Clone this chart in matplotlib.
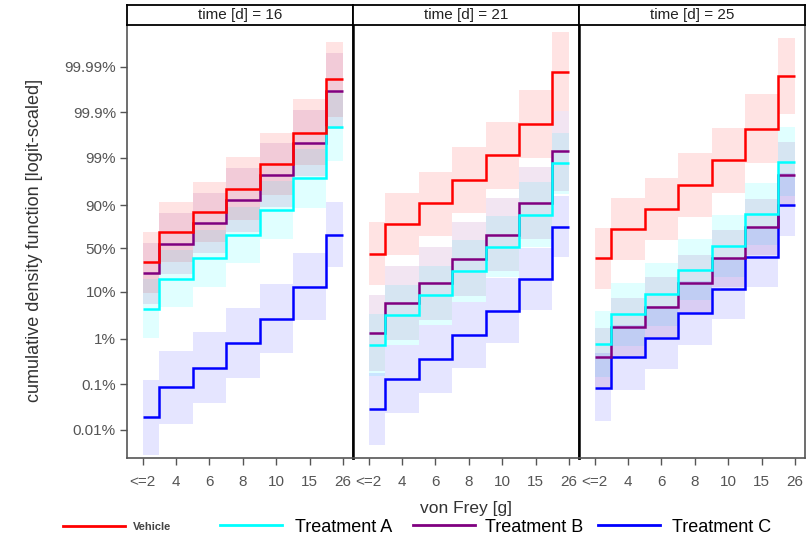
import numpy as np
import matplotlib
matplotlib.use('Agg')
import matplotlib.pyplot as plt
from matplotlib.lines import Line2D
from matplotlib.ticker import FixedLocator, FixedFormatter, NullLocator

plt.rcParams['font.family'] = ['Liberation Sans', 'DejaVu Sans']

# ---- data (percent) ----
days = [16, 21, 25]
doses = ["<=2", "4", "6", "8", "10", "15", "26"]

vehicle_cdf = [[33.1, 69.4, 86.2, 95.4, 98.65, 99.72, 99.981],
               [43.1, 77.6, 90.7, 97.0, 99.12, 99.82, 99.987],
               [37.4, 72.9, 88.1, 96.2, 98.87, 99.77, 99.984]]
vehicle_lo = [[9.6, 33.5, 57.8, 80.9, 93.7, 98.56, 99.872],
              [13.2, 41.4, 65.7, 86.0, 95.4, 98.98, 99.908],
              [11.2, 36.2, 61.0, 83.4, 94.4, 98.71, 99.888]]
vehicle_hi = [[69.8, 91.1, 96.6, 99.03, 99.72, 99.948, 99.9971],
              [79.0, 94.4, 98.0, 99.41, 99.837, 99.968, 99.9983],
              [73.9, 92.7, 97.24, 99.21, 99.78, 99.960, 99.9977]]

treat_a_cdf = [[4.5, 17.6, 37.4, 66.5, 87.4, 97.19, 99.79],
               [0.742, 3.26, 8.5, 24.2, 52.3, 84.6, 98.69],
               [0.780, 3.42, 8.77, 25.1, 53.2, 85.2, 98.77]]
treat_a_lo = [[1.04, 4.74, 12.2, 32.0, 61.4, 88.3, 98.85],
              [0.155, 0.742, 2.02, 6.31, 18.8, 51.5, 93.98],
              [0.147, 0.705, 1.92, 6.62, 19.3, 54.8, 93.3]]
treat_a_hi = [[17.6, 47.7, 71.9, 89.3, 96.8, 99.37, 99.963],
              [3.48, 13.2, 29.5, 60.2, 83.9, 96.58, 99.72],
              [4.03, 15.0, 32.0, 61.4, 84.3, 96.46, 99.79]]

treat_b_cdf = [[22.1, 55.7, 78.2, 92.1, 97.66, 99.52, 99.966],
               [1.33, 5.74, 14.6, 36.6, 66.5, 90.9, 99.29],
               [0.398, 1.77, 4.81, 14.6, 37.4, 74.9, 97.69]]
treat_b_lo = [[5.6, 21.0, 43.9, 70.1, 89.3, 97.46, 99.77],
              [0.197, 0.923, 2.59, 8.11, 23.6, 61.4, 94.8],
              [0.0902, 0.398, 1.09, 3.84, 12.4, 41.4, 89.3]]
treat_b_hi = [[57.3, 85.6, 94.3, 98.32, 99.52, 99.911, 99.995],
              [8.5, 28.5, 52.3, 79.0, 92.7, 98.45, 99.908],
              [1.74, 7.50, 18.8, 42.2, 71.5, 92.6, 99.54]]

treat_c_cdf = [[0.019, 0.087, 0.236, 0.806, 2.72, 12.6, 66.5],
               [0.0291, 0.131, 0.361, 1.23, 4.09, 17.3, 74.9],
               [0.0857, 0.392, 1.07, 3.60, 11.4, 39.0, 90.1]]
treat_c_lo = [[0.00286, 0.0138, 0.0394, 0.137, 0.488, 2.59, 27.8],
              [0.00468, 0.0234, 0.0644, 0.228, 0.833, 4.23, 38.6],
              [0.0153, 0.0762, 0.217, 0.742, 2.68, 12.6, 64.6]]
treat_c_hi = [[0.126, 0.548, 1.40, 4.58, 13.8, 43.9, 91.1],
              [0.180, 0.730, 1.99, 6.31, 17.8, 49.8, 93.4],
              [0.480, 1.99, 5.13, 15.7, 37.4, 73.9, 97.84]]

ytick_vals = [0.0001, 0.001, 0.01, 0.1, 0.5, 0.9, 0.99, 0.999, 0.9999]
ytick_labels = ["0.01%", "0.1%", "1%", "10%", "50%", "90%", "99%", "99.9%", "99.99%"]

series = [
    ("Vehicle", "#ff0000", 0.11, vehicle_cdf, vehicle_lo, vehicle_hi),
    ("Treatment A", "#00ffff", 0.12, treat_a_cdf, treat_a_lo, treat_a_hi),
    ("Treatment B", "#800080", 0.10, treat_b_cdf, treat_b_lo, treat_b_hi),
    ("Treatment C", "#0000ff", 0.10, treat_c_cdf, treat_c_lo, treat_c_hi),
]

# step edges: half-steps at both ends, full steps between
edges = np.array([0, 0.5, 1.5, 2.5, 3.5, 4.5, 5.5, 6])

W, H = 808, 537


def px_box(x0, y0, x1, y1):
    return [x0 / W, 1 - y1 / H, (x1 - x0) / W, (y1 - y0) / H]


fig = plt.figure(figsize=(W / 100, H / 100), dpi=100)

panel_x = [(127, 353), (353, 579), (579, 805)]
grey = '#555555'

for k, day in enumerate(days):
    x0, x1 = panel_x[k]
    ax = fig.add_axes(px_box(x0, 25, x1, 458))
    strip = fig.add_axes(px_box(x0, 5, x1, 25))

    for name, col, alpha, cdf, lo, hi in series:
        ax.stairs(np.array(hi[k]) / 100, edges, baseline=np.array(lo[k]) / 100,
                  fill=True, color=col, alpha=alpha, linewidth=0)
    for name, col, alpha, cdf, lo, hi in series[::-1]:
        ax.stairs(np.array(cdf[k]) / 100, edges, baseline=None, color=col, linewidth=1.8)

    ax.set_yscale('logit')
    ax.set_ylim(2.4e-5, 1 - 1.2e-5)
    ax.yaxis.set_major_locator(FixedLocator(ytick_vals))
    ax.yaxis.set_major_formatter(FixedFormatter(ytick_labels))
    ax.yaxis.set_minor_locator(NullLocator())
    ax.set_xlim(-0.47, 6.3)
    ax.set_xticks(range(len(doses)))
    ax.set_xticklabels(doses)
    ax.tick_params(axis='both', direction='out', length=5, width=1, colors=grey,
                   labelsize=11)
    ax.tick_params(axis='x', pad=7)
    ax.tick_params(axis='y', pad=3)
    if k > 0:
        ax.tick_params(axis='y', left=False, labelleft=False)

    for side in ('left', 'right', 'bottom', 'top'):
        ax.spines[side].set_color(grey)
        ax.spines[side].set_linewidth(1.2)
    if k > 0:
        ax.spines['left'].set_color('black')
        ax.spines['left'].set_linewidth(1.8)
    if k < 2:
        ax.spines['right'].set_color('black')
        ax.spines['right'].set_linewidth(1.8)
    ax.spines['top'].set_visible(False)

    strip.set_xticks([])
    strip.set_yticks([])
    for side in strip.spines:
        strip.spines[side].set_color('black')
        strip.spines[side].set_linewidth(1.3)
    strip.text(0.5, 0.48, f"time [d] = {day}", ha='center', va='center',
               fontsize=11, color='#222222', transform=strip.transAxes)

fig.text(466 / W, 1 - 508 / H, "von Frey [g]", ha='center', va='center',
         fontsize=12.5, color='#333333')
fig.text(35 / W, 1 - 240 / H, "cumulative density function [logit-scaled]",
         rotation=90, ha='center', va='center', fontsize=13, color='#333333')

# legend entries placed one by one along the bottom
leg_x = [63, 220, 413, 598]
leg_fs = [8, 13, 13, 13]
leg_pad = [8, 13, 10, 12]
for (name, col, alpha, cdf, lo, hi), lx, fs, pad in zip(series, leg_x, leg_fs, leg_pad):
    fpx = fs * 100 / 72
    handle = Line2D([], [], color=col, linewidth=2)
    leg = fig.legend([handle], [name], loc='center left',
                     bbox_to_anchor=(lx / W, 1 - 527 / H), frameon=False,
                     fontsize=fs, handlelength=62 / fpx, handletextpad=pad / fpx,
                     borderpad=0, borderaxespad=0)
    if name == "Vehicle":
        leg.get_texts()[0].set_fontweight('bold')
        leg.get_texts()[0].set_color('#444444')

fig.savefig('out.png', dpi=100)
